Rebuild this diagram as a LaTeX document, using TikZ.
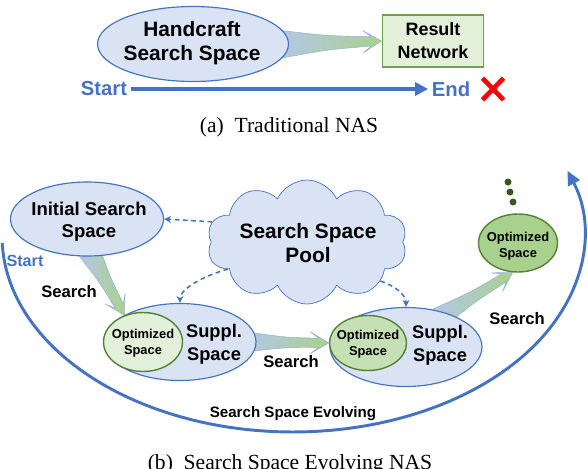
\documentclass[tikz,border=0pt]{standalone}
\usepackage{fontspec}
\setmainfont{Liberation Serif}
\setsansfont{Liberation Sans}
\usepackage{xcolor}
\definecolor{ssblue}{RGB}{68,114,196}
\definecolor{sslight}{RGB}{218,227,243}
\definecolor{ssgreen}{RGB}{84,130,53}
\definecolor{ssbox}{RGB}{112,160,80}
\definecolor{ssmint}{RGB}{226,240,217}
\definecolor{ssmint2}{RGB}{197,224,180}
\definecolor{ssmint3}{RGB}{169,209,142}
\definecolor{ssdark}{RGB}{56,87,35}
\definecolor{ssarrblue}{RGB}{180,199,231}
\definecolor{ssarrgreen}{RGB}{169,209,142}
\definecolor{ssedge}{RGB}{150,175,215}
\usepackage{tikz}
\usetikzlibrary{arrows.meta,positioning,shapes.geometric,shapes.symbols,calc}
\pgfdeclarelayer{bottom}
\pgfdeclarelayer{back}
\pgfsetlayers{bottom,back,main}

\tikzset{
  space/.style={ellipse,draw=ssblue,fill=sslight,line width=1pt,inner sep=0pt},
  optspace/.style={ellipse,draw=ssgreen,line width=1.2pt,inner sep=0pt},
  bigtxt/.style={font=\fontsize{17.8}{20.4}\selectfont\sffamily\bfseries,align=center},
  midtxt/.style={font=\fontsize{15.8}{18.7}\selectfont\sffamily\bfseries,align=center},
  suptxt/.style={font=\fontsize{15.6}{19.6}\selectfont\sffamily\bfseries,align=center},
  opttxt/.style={font=\fontsize{11}{13.6}\selectfont\sffamily\bfseries,align=center},
  searchtxt/.style={font=\fontsize{14.2}{16}\selectfont\sffamily\bfseries},
  bluetxt/.style={font=\fontsize{17.3}{20}\selectfont\sffamily\bfseries,text=ssblue,inner sep=3pt},
  subcap/.style={font=\fontsize{18.4}{20}\selectfont,anchor=base},
  fatarr/.style={left color=ssarrblue,right color=ssarrgreen,draw=ssedge,line width=0.4pt},
  dasharr/.style={draw=ssblue,line width=1.3pt,dash pattern=on 4pt off 3pt,-{Stealth[length=6pt,width=6pt]}},
}

% tapered arrow between two points: [layer]{from}{to}{half width at the base, pt}
\newcommand{\fatarrow}[4][bottom]{%
  \path (#2); \pgfgetlastxy{\fax}{\fay}%
  \path (#3); \pgfgetlastxy{\fbx}{\fby}%
  \pgfmathsetmacro{\faang}{atan2(\fby-\fay,\fbx-\fax)}%
  \pgfmathsetmacro{\falen}{veclen(\fbx-\fax,\fby-\fay)}%
  \begin{pgfonlayer}{#1}
  \begin{scope}[shift={(#2)},rotate=\faang,x=1pt,y=1pt]
    \shade[fatarr] (-8,#4) .. controls ({0.4*\falen},{0.5*#4}) .. ({\falen-9},4)
      -- ({\falen-16},9.5) -- (\falen,0) -- ({\falen-16},-9.5) -- ({\falen-9},-4)
      .. controls ({0.4*\falen},{-0.5*#4}) .. (-8,-#4) -- cycle;
  \end{scope}
  \end{pgfonlayer}}

\begin{document}
\begin{tikzpicture}[x=0.03cm,y=-0.03cm]
  \useasboundingbox (0,0) rectangle (588,468);
  % (a) traditional NAS
  \node[space,minimum width=5.73cm,minimum height=2.25cm] (hand) at (193,44) {};
  \node[bigtxt] (handtxt) at (192,43) {Handcraft\\Search Space};
  \node[draw=ssbox,fill=ssmint,line width=1.4pt,minimum width=3.03cm,minimum height=1.56cm,
        font=\fontsize{15.3}{19.5}\selectfont\sffamily\bfseries,align=center] (res) at (433,41) {Result\\Network};
  \fatarrow{hand.east}{res.west}{12}
  \node[bluetxt] (start) at (104,89) {Start};
  \node[bluetxt] (end) at (451,89) {End};
  \draw[ssblue,line width=2.6pt,-{Triangle[length=11pt,width=11pt]}] (start) -- (end);
  \node[minimum width=0.62cm,minimum height=0.64cm,inner sep=0pt] (fail) at (493,89) {};
  \draw[red,line width=4pt] (fail.north west) -- (fail.south east) (fail.south west) -- (fail.north east);
  \node[subcap] (capa) at (289,132) {(a)\enspace Traditional NAS};

  % (b) search space evolving NAS
  \node[space,minimum width=4.59cm,minimum height=2.22cm] (init) at (87,219) {};
  \node[midtxt] (inittxt) at (89,222) {Initial Search\\Space};
  \node[cloud,cloud puffs=10,cloud puff arc=130,aspect=1.6,draw=ssblue,fill=sslight,line width=0.6pt,
        minimum width=6cm,minimum height=3.72cm,inner sep=0pt] (pool) at (307,242) {};
  \node[bigtxt] (pooltxt) at (308,243) {Search Space\\Pool};
  \begin{pgfonlayer}{back}
    \node[space,minimum width=4.56cm,minimum height=2.31cm] (sup1) at (180,342) {};
    \node[space,minimum width=4.56cm,minimum height=2.37cm] (sup2) at (406,347) {};
  \end{pgfonlayer}
  \node[optspace,fill=ssmint,minimum width=2.37cm,minimum height=1.77cm] (opt1) at (143,342) {};
  \node[opttxt] (opt1txt) at (143,343) {Optimized\\Space};
  \node[suptxt] (sup1txt) at (214,344) {Suppl.\\Space};
  \node[optspace,fill=ssmint2,minimum width=2.31cm,minimum height=1.65cm] (opt2) at (368,343) {};
  \node[opttxt] (opt2txt) at (368,344) {Optimized\\Space};
  \node[suptxt] (sup2txt) at (440,345) {Suppl.\\Space};
  \node[optspace,fill=ssmint3,minimum width=2.37cm,minimum height=1.74cm] (opt3) at (518,243) {};
  \node[opttxt] (opt3txt) at (518,246) {Optimized\\Space};
  \foreach \x/\y in {508/182,510/192,513/202}
    \fill[ssdark] (\x,\y) circle (3.5);
  % search steps
  \fatarrow[back]{init.-82}{opt1.125}{10}
  \fatarrow{sup1.east}{opt2.west}{8.5}
  \fatarrow{sup2.40}{opt3.-100}{9}
  \node[searchtxt] (s1) at (69,292) {Search};
  \node[searchtxt] (s2) at (291,362) {Search};
  \node[searchtxt] (s3) at (517,319) {Search};
  % pool supplies
  \draw[dasharr] (pool.168) -- (init.east);
  \draw[dasharr] (pool.199) .. controls +(-20,5) and +(0,-15) .. (sup1.north);
  \draw[dasharr] (pool.-28) .. controls +(15,5) and +(0,-12) .. (sup2.north);
  % evolving loop
  \coordinate (evo0) at (2.2,242.8);
  \draw[ssblue,line width=2.5pt,-{Triangle[length=12pt,width=11pt]}]
    (evo0) arc[start angle=178,end angle=-19.4,x radius=291,y radius=196];
  \node[font=\fontsize{13.8}{16}\selectfont\sffamily\bfseries,text=ssblue] (startb) at (25,261) {Start};
  \node[font=\fontsize{12.9}{15}\selectfont\sffamily\bfseries] (evo) at (293,414) {Search Space Evolving};
  \node[subcap] (capb) at (290,469) {(b)\enspace Search Space Evolving NAS};
\end{tikzpicture}
\end{document}
